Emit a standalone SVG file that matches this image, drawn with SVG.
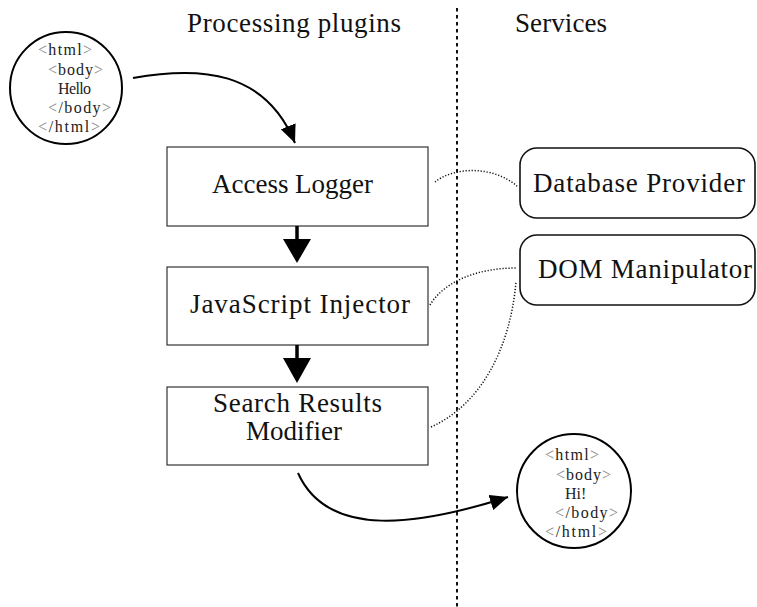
<svg xmlns="http://www.w3.org/2000/svg" width="757" height="607" viewBox="0 0 757 607">
<style>
.lbl{font-family:"Liberation Serif","Times New Roman",serif;font-size:27px;fill:#111}
.html{font-family:"Liberation Serif","Times New Roman",serif;font-size:16px;fill:#222}
.br{fill:#888}
.box{fill:#fff;stroke:#333;stroke-width:1.2}
.svc{fill:#fff;stroke:#111;stroke-width:1.6}
.doc{fill:#fff;stroke:#000;stroke-width:2}
.flow{fill:none;stroke:#000;stroke-width:2}
.dot{fill:none;stroke:#111;stroke-width:1.5;stroke-dasharray:1.2 1.8}
.sep{stroke:#111;stroke-width:2;stroke-dasharray:3.5 3.5}
</style>
<defs>
<marker id="ah" markerUnits="userSpaceOnUse" markerWidth="20" markerHeight="16" refX="18" refY="8" orient="auto">
<path d="M0,0 L18,8 L0,16 z" fill="#000"/>
</marker>
</defs>
<rect width="757" height="607" fill="#fff"/>
<line class="sep" x1="457" y1="8" x2="457" y2="607"/>
<text class="lbl" x="187" y="32" textLength="214">Processing plugins</text>
<text class="lbl" x="515" y="32" textLength="92">Services</text>

<g id="input-doc">
<circle class="doc" cx="66" cy="88" r="56"/>
<text class="html" x="38" y="55" textLength="54"><tspan class="br">&lt;</tspan>html<tspan class="br">&gt;</tspan></text>
<text class="html" x="48" y="74.5" textLength="55"><tspan class="br">&lt;</tspan>body<tspan class="br">&gt;</tspan></text>
<text class="html" x="58" y="93.5" textLength="33">Hello</text>
<text class="html" x="48" y="113" textLength="63"><tspan class="br">&lt;</tspan>/body<tspan class="br">&gt;</tspan></text>
<text class="html" x="38" y="132" textLength="62"><tspan class="br">&lt;</tspan>/html<tspan class="br">&gt;</tspan></text>
</g>

<g id="output-doc">
<circle class="doc" cx="574" cy="491" r="57"/>
<text class="html" x="545" y="460" textLength="54"><tspan class="br">&lt;</tspan>html<tspan class="br">&gt;</tspan></text>
<text class="html" x="556" y="479.5" textLength="55"><tspan class="br">&lt;</tspan>body<tspan class="br">&gt;</tspan></text>
<text class="html" x="565" y="498.5">Hi!</text>
<text class="html" x="555" y="518" textLength="63"><tspan class="br">&lt;</tspan>/body<tspan class="br">&gt;</tspan></text>
<text class="html" x="545" y="537" textLength="62"><tspan class="br">&lt;</tspan>/html<tspan class="br">&gt;</tspan></text>
</g>

<g id="access-logger">
<rect class="box" x="167" y="147" width="261" height="79"/>
<text class="lbl" x="212" y="193" textLength="161">Access Logger</text>
</g>
<g id="javascript-injector">
<rect class="box" x="167" y="267" width="261" height="78"/>
<text class="lbl" x="190" y="313" textLength="220">JavaScript Injector</text>
</g>
<g id="search-results-modifier">
<rect class="box" x="167" y="387" width="261" height="78"/>
<text class="lbl" x="213" y="412" textLength="169">Search Results</text>
<text class="lbl" x="294" y="440" text-anchor="middle">Modifier</text>
</g>
<g id="database-provider">
<rect class="svc" x="520" y="148" width="235" height="70" rx="17"/>
<text class="lbl" x="533" y="192" textLength="212">Database Provider</text>
</g>
<g id="dom-manipulator">
<rect class="svc" x="520" y="235" width="235" height="70" rx="17"/>
<text class="lbl" x="538" y="278" textLength="214">DOM Manipulator</text>
</g>

<g id="connectors">
<path class="flow" d="M133,78 C200,66 265,70 295,143" marker-end="url(#ah)"/>
<path class="flow" d="M298,473 C328,540 420,525 508,497" marker-end="url(#ah)"/>
<line x1="297" y1="226" x2="297" y2="240" stroke="#000" stroke-width="3.5"/>
<polygon points="283,239 311,239 297,263" fill="#000"/>
<line x1="297" y1="345" x2="297" y2="359" stroke="#000" stroke-width="3.5"/>
<polygon points="283,358 311,358 297,383" fill="#000"/>
<path class="dot" d="M435,182 C455,166 495,166 518,187"/>
<path class="dot" d="M430,305 C445,280 480,268 516,268"/>
<path class="dot" d="M431,427 C480,405 510,350 516,282"/>
</g>
</svg>
